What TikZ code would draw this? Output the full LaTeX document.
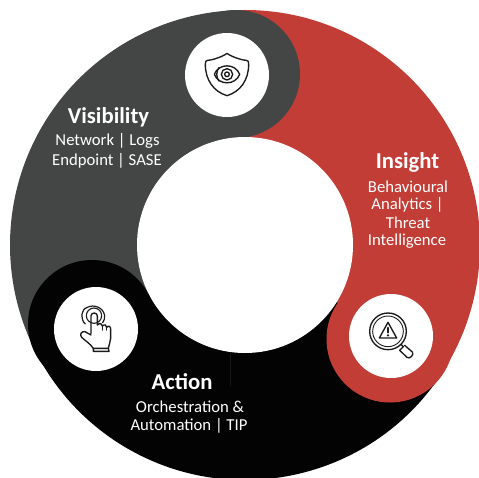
\documentclass[tikz,border=0pt]{standalone}
\usepackage{fontspec}
\setmainfont{Carlito}
\definecolor{ringgrey}{HTML}{444645}
\definecolor{ringred}{HTML}{C23D36}
\definecolor{ringblack}{HTML}{030303}
\definecolor{icon}{HTML}{1A1A1A}
\tikzset{
  title/.style={text=white,font=\fontsize{22.7}{24}\selectfont\bfseries,inner sep=0pt},
  sub/.style={text=white,font=\fontsize{16.7}{18}\selectfont,inner sep=0pt},
  ic/.style={draw=icon,line width=1.35pt,line join=round,line cap=round},
  disc/.style={circle,fill=white,minimum size=84pt,inner sep=0pt,draw=none},
}
\begin{document}
\begin{tikzpicture}[x=1pt,y=-1pt]
\useasboundingbox (0,0) rectangle (479,477);
\clip (0,0) rectangle (479,477);
\coordinate (c) at (245,245);
% ring sectors
\fill[ringred] (c) -- ++(267:235) arc[start angle=267,end angle=393,radius=235] -- cycle;
\fill[ringgrey] (c) -- ++(152:235) arc[start angle=152,end angle=267,radius=235] -- cycle;
\fill[ringblack] (c) -- ++(32:235) arc[start angle=32,end angle=153,radius=235] -- cycle;
% lobes
\fill[ringgrey] (236,74) circle[radius=64];
\fill[ringred] (390,339) circle[radius=63.5];
\fill[ringblack] (92,324) circle[radius=64];
\node[circle,fill=white,minimum size=216pt,inner sep=0pt] (hub) at (c) {};
\draw[ringgrey!35!black,line width=.3pt] (230.5,353) -- (230.5,386);
% white discs
\node[disc] (d1) at (227,75) {};
\node[disc] (d2) at (391,336) {};
\node[disc] (d3) at (96,329) {};
% shield icon
\begin{scope}[shift={(197,45)},x=1/3*1pt,y=-1/3*1pt]
\draw[ic] (90,25) .. controls (80,33) and (50,45) .. (32,46)
  .. controls (26,46) and (25,50) .. (25,58)
  .. controls (25,105) and (50,140) .. (90,152)
  .. controls (130,140) and (155,105) .. (155,58)
  .. controls (155,50) and (154,46) .. (148,46)
  .. controls (130,45) and (100,33) .. (90,25) -- cycle;
\draw[ic] (52,88) .. controls (65,54) and (115,54) .. (128,88)
  .. controls (115,122) and (65,122) .. (52,88) -- cycle;
\draw[ic] (66,68) .. controls (57,78) and (57,98) .. (66,108);
\draw[ic] (90,88) circle[radius=17];
\draw[ic] (90,88) circle[radius=7];
\end{scope}
% magnifier icon
\begin{scope}[shift={(362,308)},x=1/3*1pt,y=-1/3*1pt]
\draw[ic] (78,70) circle[radius=55];
\draw[ic,line width=.9pt] (78,70) circle[radius=46];
\draw[ic,line join=round] (78,43) -- (104,90) -- (52,90) -- cycle;
\draw[ic,line width=1.4pt] (78,59) -- (78,74);
\fill[icon] (78,82) circle[radius=3.5];
\draw[ic] (117,109) -- (124,116);
\draw[ic] (124,116) -- (113,127);
\draw[ic] (113,127) -- (135,148) .. controls (142,155) and (158,140) .. (151,132) -- (128,112);
\end{scope}
% hand icon
\begin{scope}[shift={(10,250)},x=1/3*1pt,y=-1/3*1pt]
\draw[ic,line width=1.1pt] (252,197) circle[radius=23];
\draw[ic,line width=1.2pt] (226,222) .. controls (210,208) and (212,178) .. (232,172)
  .. controls (252,162) and (280,172) .. (284,197) .. controls (285,205) and (282,212) .. (278,218);
\draw[ic] (243,250) -- (243,198) .. controls (243,186) and (262,186) .. (262,198)
  -- (262,225) .. controls (270,218) and (277,220) .. (277,228)
  .. controls (284,222) and (290,224) .. (290,232)
  .. controls (296,226) and (302,228) .. (302,238)
  -- (302,265) .. controls (302,275) and (296,285) .. (295,295)
  -- (250,295) .. controls (240,280) and (225,272) .. (215,262)
  .. controls (208,254) and (214,243) .. (225,245) -- (243,255);
\draw[ic] (277,228) -- (277,240);
\draw[ic] (290,232) -- (290,240);
\draw[ic] (250,295) -- (250,304) -- (297,304) -- (295,295);
\end{scope}
% labels
\node[title] (t1) at (108.5,117) {Visibility};
\node[sub] (s1a) at (107.5,141) {Network | Logs};
\node[sub] (s1b) at (107,160.5) {Endpoint | SASE};
\node[title] (t2) at (407.5,162) {Insight};
\node[sub] (s2a) at (408,186.5) {Behavioural};
\node[sub] (s2b) at (407.5,204.5) {Analytics |};
\node[sub] (s2c) at (408,222.5) {Threat};
\node[sub] (s2d) at (407,241) {Intelligence};
\node[title] (t3) at (182,382) {Action};
\node[sub] (s3a) at (190,407) {Orchestration \&};
\node[sub] (s3b) at (189,425.5) {Automation | TIP};
\end{tikzpicture}
\end{document}
